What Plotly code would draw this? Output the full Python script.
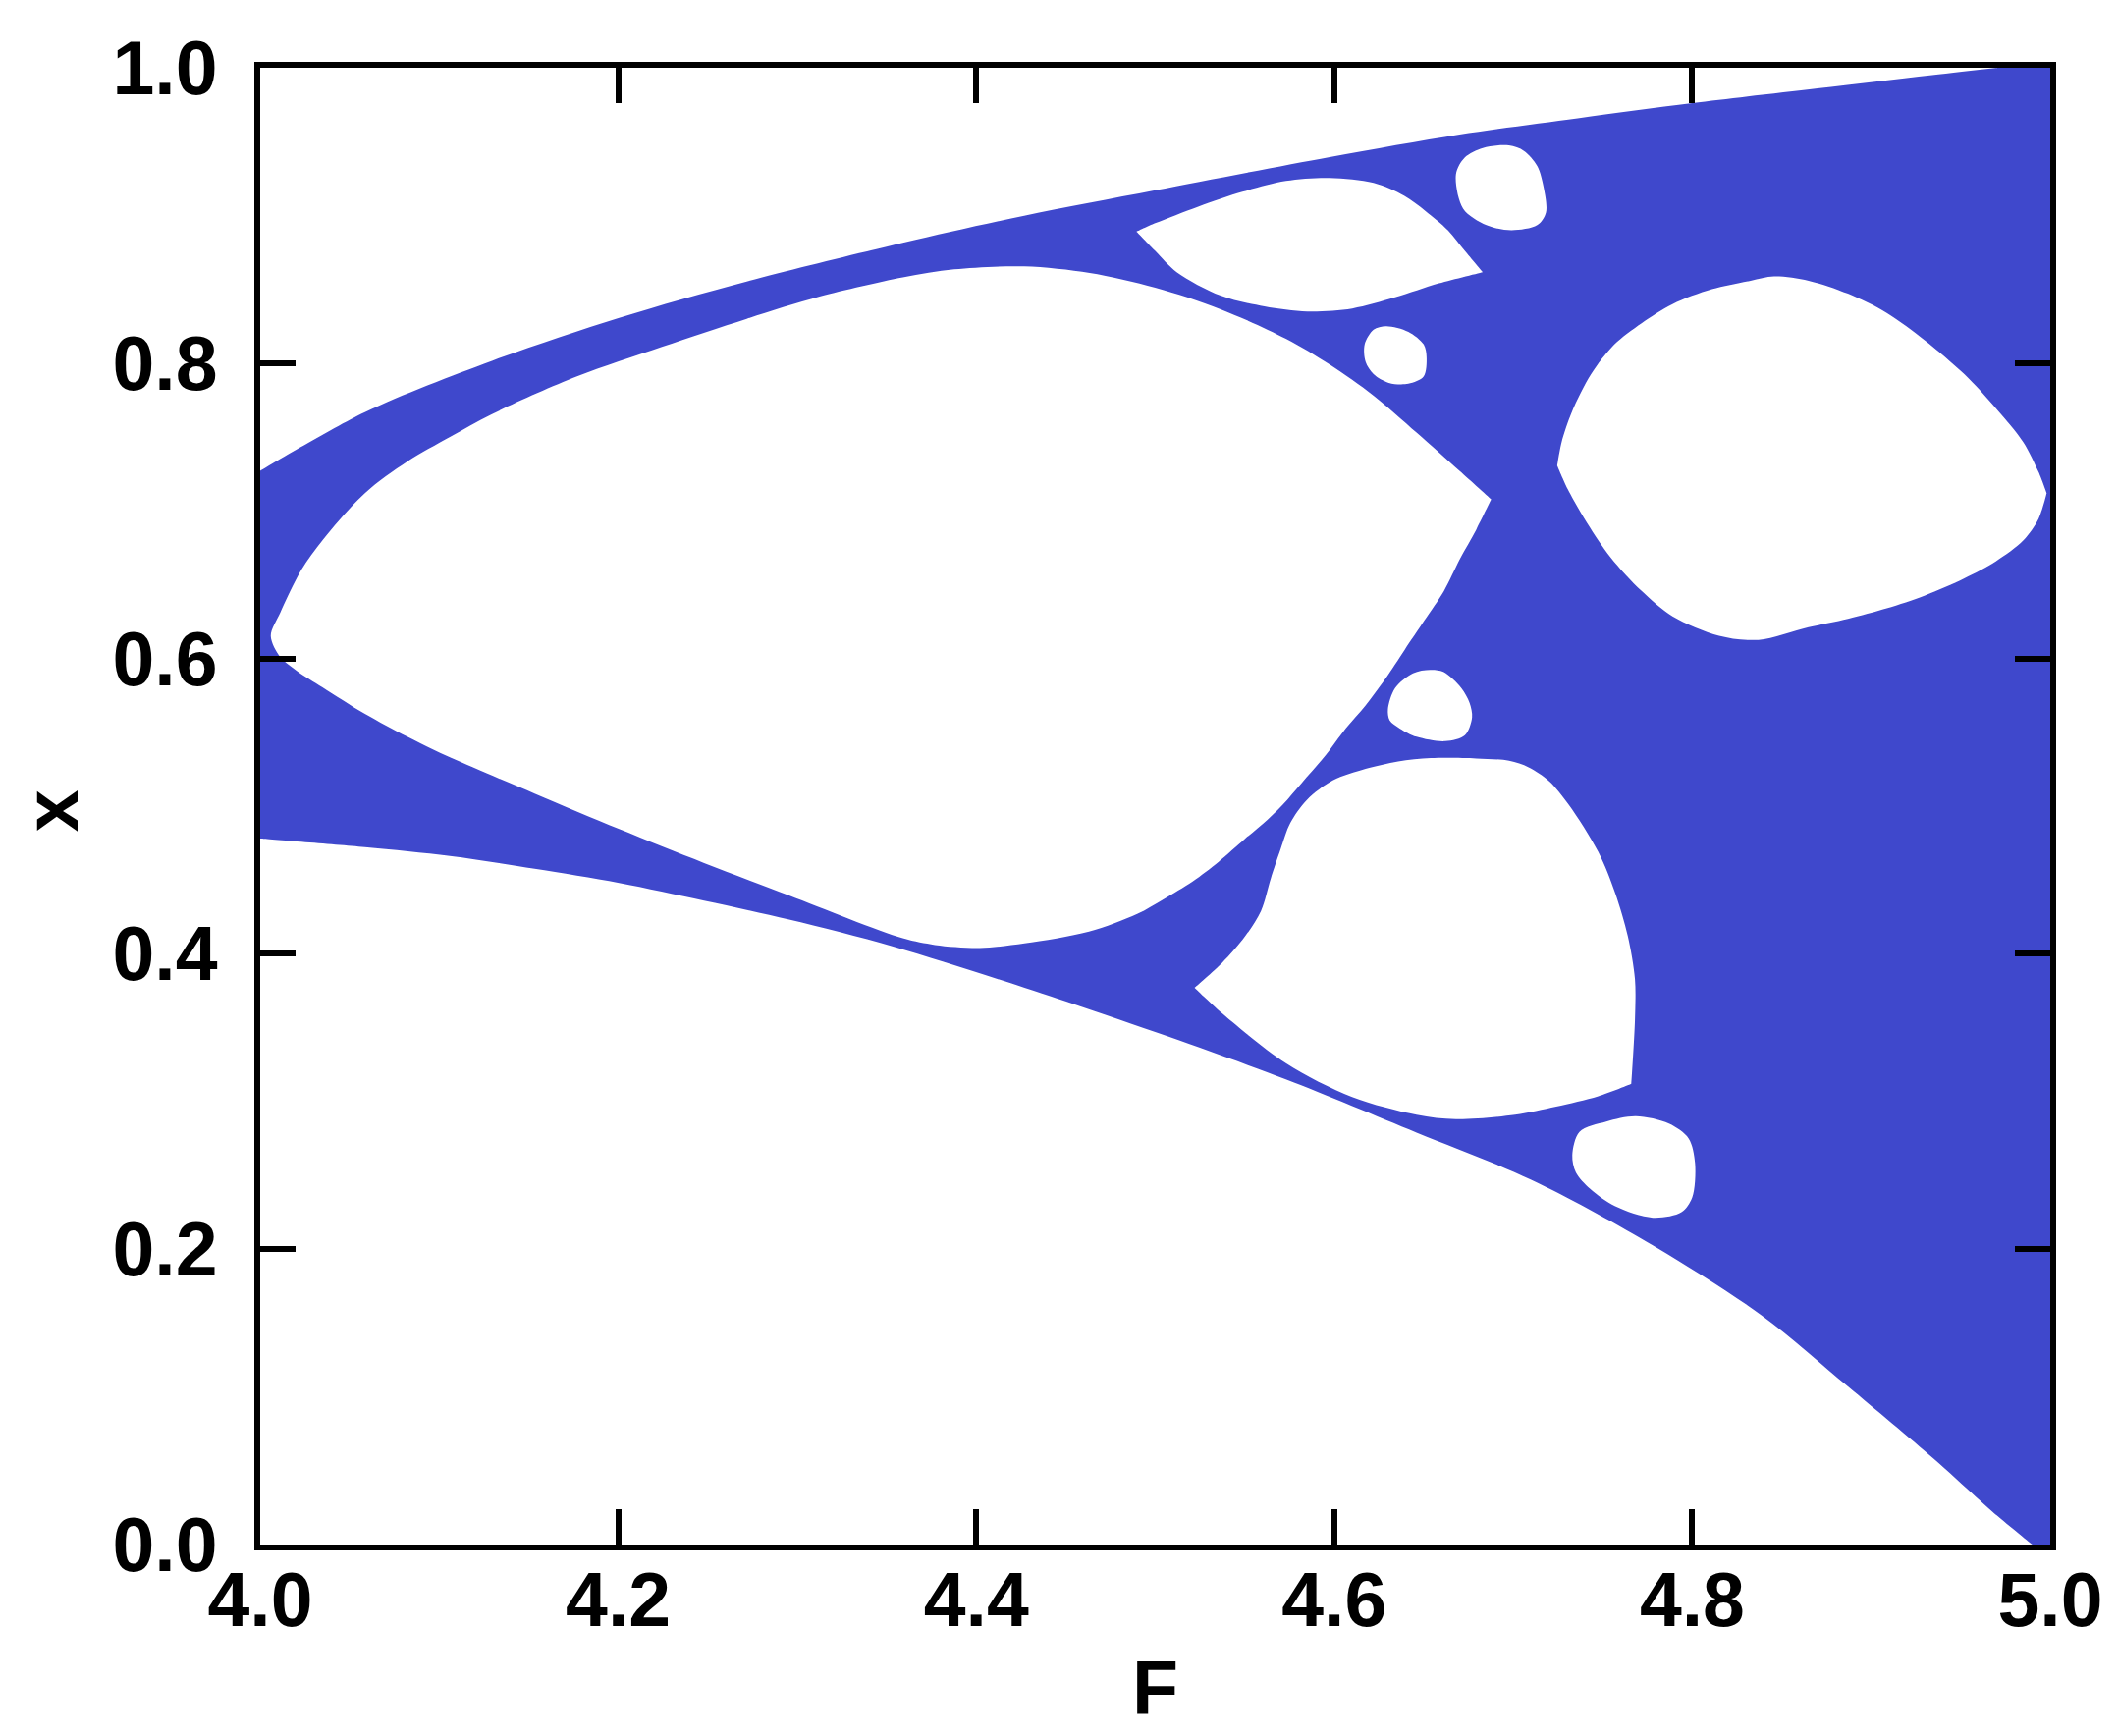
import plotly.graph_objects as go

BLUE = "#3F48CC"

# Outer envelope of the filled region
upper_F = [4.0, 4.0585, 4.1295, 4.2005, 4.2718, 4.359, 4.4268, 4.500, 4.5975, 4.670, 4.736, 4.800, 4.870, 4.934, 5.0]
upper_x = [0.727, 0.7668, 0.8016, 0.8307, 0.8553, 0.8815, 0.8998, 0.9170, 0.9395, 0.9548, 0.9658, 0.976, 0.986, 0.995, 1.004]
lower_F = [4.0, 4.0585, 4.106, 4.1533, 4.2005, 4.248, 4.2955, 4.3536, 4.427, 4.500, 4.573, 4.646, 4.710, 4.7746, 4.839, 4.887, 4.935, 4.9675, 4.990, 5.0]
lower_x = [0.478, 0.4722, 0.4662, 0.4576, 0.448, 0.436, 0.4232, 0.405, 0.377, 0.347, 0.315, 0.279, 0.247, 0.205, 0.155, 0.107, 0.058, 0.0225, 0.0, 0.0]

# Holes (white windows)
big_F = [4.0059, 4.0112, 4.023, 4.0348, 4.0585, 4.0822, 4.106, 4.1295, 4.177, 4.2244, 4.2718, 4.3125, 4.359, 4.3877, 4.4268, 4.4634, 4.500, 4.5365, 4.573, 4.5975, 4.622, 4.646, 4.670, 4.6877,
         4.6794, 4.6703, 4.6612, 4.6503, 4.6393, 4.6284, 4.6175, 4.6066, 4.5956, 4.5847, 4.5737, 4.5628, 4.550, 4.5354, 4.5209, 4.5045, 4.4899, 4.463, 4.427, 4.402, 4.377, 4.359,
         4.2955, 4.248, 4.2005, 4.1533, 4.106, 4.0822, 4.0585, 4.0348, 4.0206, 4.0112]
big_x = [0.6152, 0.631, 0.660, 0.680, 0.712, 0.7334, 0.7500, 0.7655, 0.791, 0.811, 0.830, 0.845, 0.858, 0.8635, 0.8655, 0.861, 0.851, 0.8365, 0.8165, 0.799, 0.778, 0.753, 0.727, 0.7077,
         0.6874, 0.6675, 0.6455, 0.6256, 0.6058, 0.5859, 0.5682, 0.5528, 0.5351, 0.5197, 0.5042, 0.4909, 0.4777, 0.4623, 0.449, 0.4369, 0.427, 0.415, 0.407, 0.404, 0.406, 0.4105,
         0.4395, 0.4615, 0.4845, 0.5085, 0.533, 0.547, 0.5625, 0.5805, 0.5915, 0.601]
big_tips = [23]

leaf_F = [4.4896, 4.500, 4.524, 4.5487, 4.573, 4.5975, 4.622, 4.639, 4.651, 4.6635, 4.673, 4.683,
          4.6585, 4.634, 4.610, 4.585, 4.561, 4.5365, 4.512, 4.500]
leaf_x = [0.889, 0.8947, 0.906, 0.916, 0.9234, 0.9254, 0.922, 0.9134, 0.903, 0.890, 0.876, 0.8616,
          0.854, 0.8445, 0.837, 0.835, 0.8384, 0.8457, 0.8616, 0.876]
leaf_tips = [0, 11]

blobA_F = [4.668, 4.673, 4.683, 4.6976, 4.706, 4.7134, 4.717, 4.7183, 4.7134, 4.699, 4.685, 4.672]
blobA_x = [0.9278, 0.9393, 0.9457, 0.9474, 0.9437, 0.9335, 0.919, 0.902, 0.8934, 0.890, 0.8934, 0.9046]

blobB_F = [4.617, 4.622, 4.629, 4.6414, 4.650, 4.6516, 4.650, 4.6414, 4.6305, 4.622, 4.6175]
blobB_x = [0.8126, 0.8226, 0.825, 0.8212, 0.8126, 0.804, 0.791, 0.786, 0.7866, 0.7925, 0.801]

right_F = [4.7246, 4.727, 4.7326, 4.7435, 4.7565, 4.7717, 4.789, 4.811, 4.8326, 4.8457, 4.865, 4.887, 4.9087, 4.930, 4.952, 4.9696, 4.985, 4.9935, 4.998,
           4.9935, 4.985, 4.9696, 4.952, 4.930, 4.9087, 4.887, 4.865, 4.837, 4.815, 4.789, 4.7717, 4.7543, 4.7413, 4.7304]
right_x = [0.7305, 0.7464, 0.7665, 0.7925, 0.8126, 0.827, 0.840, 0.850, 0.8558, 0.8587, 0.8558, 0.847, 0.834, 0.8154, 0.7925, 0.7695, 0.7464, 0.7262, 0.712,
           0.6947, 0.680, 0.6658, 0.6543, 0.6427, 0.634, 0.6269, 0.6212, 0.6126, 0.6154, 0.6285, 0.6457, 0.6686, 0.6917, 0.7147]
right_tips = [0, 18]

blobC_F = [4.630, 4.634, 4.644, 4.6536, 4.661, 4.671, 4.6756, 4.677, 4.673, 4.662, 4.646, 4.6366, 4.631]
blobC_x = [0.5656, 0.580, 0.590, 0.5923, 0.5909, 0.580, 0.570, 0.560, 0.548, 0.544, 0.547, 0.5526, 0.558]

low_F = [4.522, 4.5373, 4.550, 4.5591, 4.5646, 4.5701, 4.5755, 4.5847, 4.5992, 4.6175, 4.6357, 4.654, 4.6794, 4.6977, 4.7086, 4.720, 4.731, 4.7475, 4.757, 4.764, 4.768, 4.768, 4.766,
         4.7475, 4.724, 4.701, 4.668, 4.646, 4.610, 4.573, 4.539]
low_x = [0.377, 0.3938, 0.4115, 0.4291, 0.4512, 0.4711, 0.4887, 0.5042, 0.5174, 0.5252, 0.5303, 0.5325, 0.5323, 0.5307, 0.5263, 0.517, 0.501, 0.469, 0.441, 0.412, 0.383, 0.355, 0.312,
         0.3035, 0.2965, 0.291, 0.288, 0.291, 0.303, 0.326, 0.358]
low_tips = [0, 22]

blobD_F = [4.733, 4.737, 4.752, 4.7685, 4.787, 4.798, 4.8016, 4.800, 4.794, 4.778, 4.757, 4.743, 4.735]
blobD_x = [0.2636, 0.2795, 0.2864, 0.290, 0.285, 0.275, 0.258, 0.235, 0.225, 0.2213, 0.229, 0.2408, 0.252]

x_ticks = [4.0, 4.2, 4.4, 4.6, 4.8, 5.0]
x_tick_labels = ["4.0", "4.2", "4.4", "4.6", "4.8", "5.0"]
y_ticks = [0.0, 0.2, 0.4, 0.6, 0.8, 1.0]
y_tick_labels = ["0.0", "0.2", "0.4", "0.6", "0.8", "1.0"]
x_title = "F"
y_title = "x"


def closed_path(xs, ys, corners=()):
    """Closed outline for a spline fill; points listed in `corners` stay sharp."""
    n = len(xs)
    if not corners:
        return list(xs) + [xs[0]], list(ys) + [ys[0]]
    start = corners[0]
    order = [(start + k) % n for k in range(n)]
    px, py = [], []
    for i in order:
        px.append(xs[i]); py.append(ys[i])
        if i in corners and i != start:
            px.append(xs[i]); py.append(ys[i])
    px += [xs[start], xs[start]]
    py += [ys[start], ys[start]]
    return px, py


fig = go.Figure()

outer_F = upper_F + lower_F[::-1]
outer_x = upper_x + lower_x[::-1]
nu = len(upper_F)
outer_corners = [0, nu - 1, nu, nu + 1, len(outer_F) - 1]
ox, oy = closed_path(outer_F, outer_x, outer_corners)
fig.add_trace(go.Scatter(x=ox, y=oy, mode="lines", fill="toself",
                         fillcolor=BLUE,
                         line=dict(width=0, color=BLUE, shape="spline", smoothing=0.9, simplify=False),
                         hoverinfo="skip", showlegend=False))

holes = [(big_F, big_x, big_tips), (leaf_F, leaf_x, leaf_tips), (blobA_F, blobA_x, []),
         (blobB_F, blobB_x, []), (right_F, right_x, right_tips), (blobC_F, blobC_x, []),
         (low_F, low_x, low_tips), (blobD_F, blobD_x, [])]
for hF, hx, tips in holes:
    px, py = closed_path(hF, hx, tips)
    fig.add_trace(go.Scatter(x=px, y=py, mode="lines", fill="toself",
                             fillcolor="white",
                             line=dict(width=0, color="white", shape="spline", smoothing=0.9, simplify=False),
                             hoverinfo="skip", showlegend=False))

font_main = dict(family="Liberation Sans, Arial, sans-serif", size=77, color="black", weight="bold")

fig.update_layout(
    width=2156, height=1768,
    margin=dict(l=257, r=76, t=61, b=203),
    paper_bgcolor="white", plot_bgcolor="white",
    font=font_main,
    showlegend=False,
)
fig.update_xaxes(
    range=[4.0, 5.0], tickvals=x_ticks, ticktext=x_tick_labels,
    ticks="inside", ticklen=36, tickwidth=6, tickcolor="black",
    showline=True, linewidth=6, linecolor="black", mirror="ticks",
    showgrid=False, zeroline=False, tickfont=font_main, ticklabelstandoff=-15,
)
fig.update_yaxes(
    range=[0.0, 1.0], tickvals=y_ticks, ticktext=y_tick_labels,
    ticks="inside", ticklen=36, tickwidth=6, tickcolor="black",
    showline=True, linewidth=6, linecolor="black", mirror="ticks",
    showgrid=False, zeroline=False, tickfont=font_main, ticklabelstandoff=22,
)
fig.add_annotation(text=x_title, xref="paper", yref="paper", x=0.5, y=-0.097,
                   xanchor="center", yanchor="middle", showarrow=False, font=font_main)
fig.add_annotation(text=y_title, xref="paper", yref="paper", x=-0.117, y=0.497,
                   xanchor="center", yanchor="middle", showarrow=False, font=font_main,
                   textangle=-90)

fig.write_html("out.html")
